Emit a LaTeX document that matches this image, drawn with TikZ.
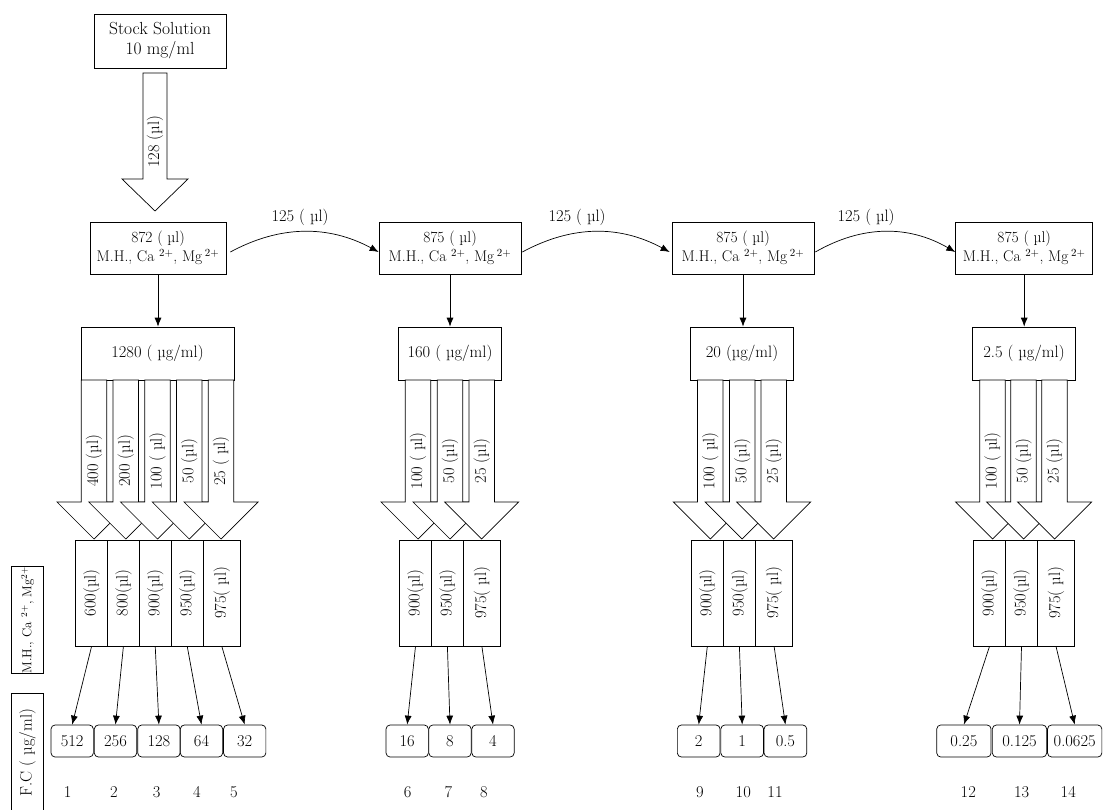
\documentclass[tikz,border=0pt]{standalone}
\usetikzlibrary{arrows.meta}

% block arrow pouring from a concentration box into a tube
\newcommand{\pour}[3]{%
  \draw[fill=white] (#1-12.75,380) -- (#1+12.75,380) -- (#1+12.75,502) -- (#1+37,502) -- (#1,539) -- (#1-37,502) -- (#1-12.75,502) -- cycle;
  \node[lbl, rotate=90] (#3) at (#1,461) {#2};}

\begin{document}
\begin{tikzpicture}[x=1pt,y=-1pt,
  every node/.style={font=\fontsize{16.5}{19}\selectfont},
  every path/.style={line width=0.7pt},
  block/.style={draw, rectangle, inner sep=0pt, align=center},
  mixbox/.style={block, minimum height=52, font=\fontsize{15.5}{19}\selectfont},
  tube/.style={draw, rectangle, inner sep=0pt, rotate=90, minimum width=106, minimum height=32},
  result/.style={draw, rectangle, rounded corners=4pt, inner sep=0pt, minimum height=32},
  side/.style={draw, rectangle, inner sep=0pt, rotate=90, minimum height=31.6},
  lbl/.style={inner sep=0pt},
  thin/.style={-{Latex[length=9pt,width=7pt]}}]
\useasboundingbox (0,0) rectangle (1105,810);

% stock solution
\node[block, minimum width=132, minimum height=54, font=\fontsize{17.5}{20}\selectfont] (stock) at (160,41) {Stock Solution\\10 mg/ml};
\draw[fill=white] (143,73) -- (167,73) -- (167,179) -- (188,179) -- (155,211) -- (122,179) -- (143,179) -- cycle;
\node[lbl, rotate=90] (v128) at (155,142) {128 (\textmu l)};

% mixing boxes
\node[mixbox, minimum width=136] (mix1) at (158,248) {872 ( \textmu l)\\M.H., Ca~\textsuperscript{2+}, Mg\,\textsuperscript{2+}};
\node[mixbox, minimum width=142] (mix2) at (450,248) {875 ( \textmu l)\\M.H., Ca~\textsuperscript{2+}, Mg\,\textsuperscript{2+}};
\node[mixbox, minimum width=142] (mix3) at (743,248) {875 ( \textmu l)\\M.H., Ca~\textsuperscript{2+}, Mg\,\textsuperscript{2+}};
\node[mixbox, minimum width=137] (mix4) at (1024.2,248) {875 ( \textmu l)\\M.H., Ca~\textsuperscript{2+}, Mg\,\textsuperscript{2+}};

\draw[thin] ([xshift=4pt,yshift=-4pt]mix1.east) .. controls +(50,-27) and +(-50,-27) .. ([yshift=-4pt]mix2.west);
\draw[thin] ([xshift=1pt,yshift=-4pt]mix2.east) .. controls +(50,-27) and +(-50,-27) .. ([xshift=-2pt,yshift=-4pt]mix3.west);
\draw[thin] ([xshift=1pt,yshift=-4pt]mix3.east) .. controls +(47,-27) and +(-47,-27) .. ([yshift=-4pt]mix4.west);
\node[lbl] (t1) at (300,217) {125 ( \textmu l)};
\node[lbl] (t2) at (577,217) {125 ( \textmu l)};
\node[lbl] (t3) at (866,217) {125 ( \textmu l)};

% concentrations
\node[block, minimum width=153, minimum height=53] (conc1) at (157.5,353.5) {1280 ( \textmu g/ml)};
\node[block, minimum width=103.4, minimum height=53] (conc2) at (450,353.5) {160 ( \textmu g/ml)};
\node[block, minimum width=103.4, minimum height=53] (conc3) at (742,353.5) {20 (\textmu g/ml)};
\node[block, minimum width=103.4, minimum height=53] (conc4) at (1024,353.5) {2.5 ( \textmu g/ml)};
\draw[thin] (mix1.south) -- (mix1.south |- conc1.north);
\draw[thin] (mix2.south) -- (mix2.south |- conc2.north);
\draw[thin] (mix3.south) -- (mix3.south |- conc3.north);
\draw[thin] (mix4.south) -- (mix4.south |- conc4.north);

% transfers
\pour{94}{400 (\textmu l)}{p1}
\pour{125.75}{200 (\textmu l)}{p2}
\pour{157.5}{100 ( \textmu l)}{p3}
\pour{189.25}{50 (\textmu l)}{p4}
\pour{221}{25 ( \textmu l)}{p5}
\pour{418}{100 ( \textmu l)}{p6}
\pour{450}{50 (\textmu l)}{p7}
\pour{481.7}{25 (\textmu l)}{p8}
\pour{710.3}{100 ( \textmu l)}{p9}
\pour{742.2}{50 (\textmu l)}{p10}
\pour{773.7}{25 (\textmu l)}{p11}
\pour{992.5}{100 ( \textmu l)}{p12}
\pour{1023.5}{50 (\textmu l)}{p13}
\pour{1054.5}{25 (\textmu l)}{p14}

% tubes
\node[tube] (tb1) at (91.6,593) {600(\textmu l)};
\node[tube] (tb2) at (123.4,593) {800(\textmu l)};
\node[tube] (tb3) at (155.25,593) {900(\textmu l)};
\node[tube] (tb4) at (187.25,593) {950(\textmu l)};
\node[tube, minimum height=37] (tb5) at (221.8,593) {975( \textmu l)};
\node[tube] (tb6) at (415.5,593) {900(\textmu l)};
\node[tube] (tb7) at (447.4,593) {950(\textmu l)};
\node[tube, minimum height=37] (tb8) at (481.9,593) {975( \textmu l)};
\node[tube] (tb9) at (707.3,593) {900(\textmu l)};
\node[tube] (tb10) at (739.4,593) {950(\textmu l)};
\node[tube, minimum height=37] (tb11) at (774.1,593) {975( \textmu l)};
\node[tube] (tb12) at (989.5,593) {900(\textmu l)};
\node[tube] (tb13) at (1021.5,593) {950(\textmu l)};
\node[tube, minimum height=37] (tb14) at (1056,593) {975( \textmu l)};

% final concentrations
\node[result, minimum width=42.3] (r1) at (72.2,741) {512};
\node[result, minimum width=42.3] (r2) at (115.5,741) {256};
\node[result, minimum width=42.3] (r3) at (158.9,741) {128};
\node[result, minimum width=42.3] (r4) at (201.5,741) {64};
\node[result, minimum width=42.3] (r5) at (244.7,741) {32};
\node[result, minimum width=42.3] (r6) at (407.2,741) {16};
\node[result, minimum width=42.3] (r7) at (450,741) {8};
\node[result, minimum width=42.3] (r8) at (493,741) {4};
\node[result, minimum width=42.7] (r9) at (698.7,741) {2};
\node[result, minimum width=42.7] (r10) at (742.2,741) {1};
\node[result, minimum width=42.7] (r11) at (785.4,741) {0.5};
\node[result, minimum width=54.3] (r12) at (963.9,741) {0.25};
\node[result, minimum width=54.3] (r13) at (1019.5,741) {0.125};
\node[result, minimum width=54.3] (r14) at (1074.7,741) {0.0625};
\draw[thin] (tb1.west) -- (r1.north);
\draw[thin] (tb2.west) -- (r2.north);
\draw[thin] (tb3.west) -- (r3.north);
\draw[thin] (tb4.west) -- (r4.north);
\draw[thin] (tb5.west) -- (r5.north);
\draw[thin] (tb6.west) -- (r6.north);
\draw[thin] (tb7.west) -- (r7.north);
\draw[thin] (tb8.west) -- (r8.north);
\draw[thin] (tb9.west) -- (r9.north);
\draw[thin] (tb10.west) -- (r10.north);
\draw[thin] (tb11.west) -- (r11.north);
\draw[thin] (tb12.west) -- (r12.north);
\draw[thin] (tb13.west) -- (r13.north);
\draw[thin] (tb14.west) -- (r14.north);

% well numbers
\node[lbl] (n1) at (67.7,792) {1};
\node[lbl] (n2) at (114,792) {2};
\node[lbl] (n3) at (156.7,792) {3};
\node[lbl] (n4) at (197,792) {4};
\node[lbl] (n5) at (234,792) {5};
\node[lbl] (n6) at (407.7,792) {6};
\node[lbl] (n7) at (448.3,792) {7};
\node[lbl] (n8) at (484,792) {8};
\node[lbl] (n9) at (700,792) {9};
\node[lbl] (n10) at (743.3,792) {10};
\node[lbl] (n11) at (775,792) {11};
\node[lbl] (n12) at (968.3,792) {12};
\node[lbl] (n13) at (1021.7,792) {13};
\node[lbl] (n14) at (1068.3,792) {14};

% row labels
\node[side, minimum width=98, font=\fontsize{13}{15}\selectfont] (mh) at (27.5,620) {M.H., Ca~\textsuperscript{2+}, Mg\textsuperscript{2+}};
\node[side, minimum width=119] (fc) at (27.5,752.5) {F.C ( \textmu g/ml)};
\end{tikzpicture}
\end{document}
